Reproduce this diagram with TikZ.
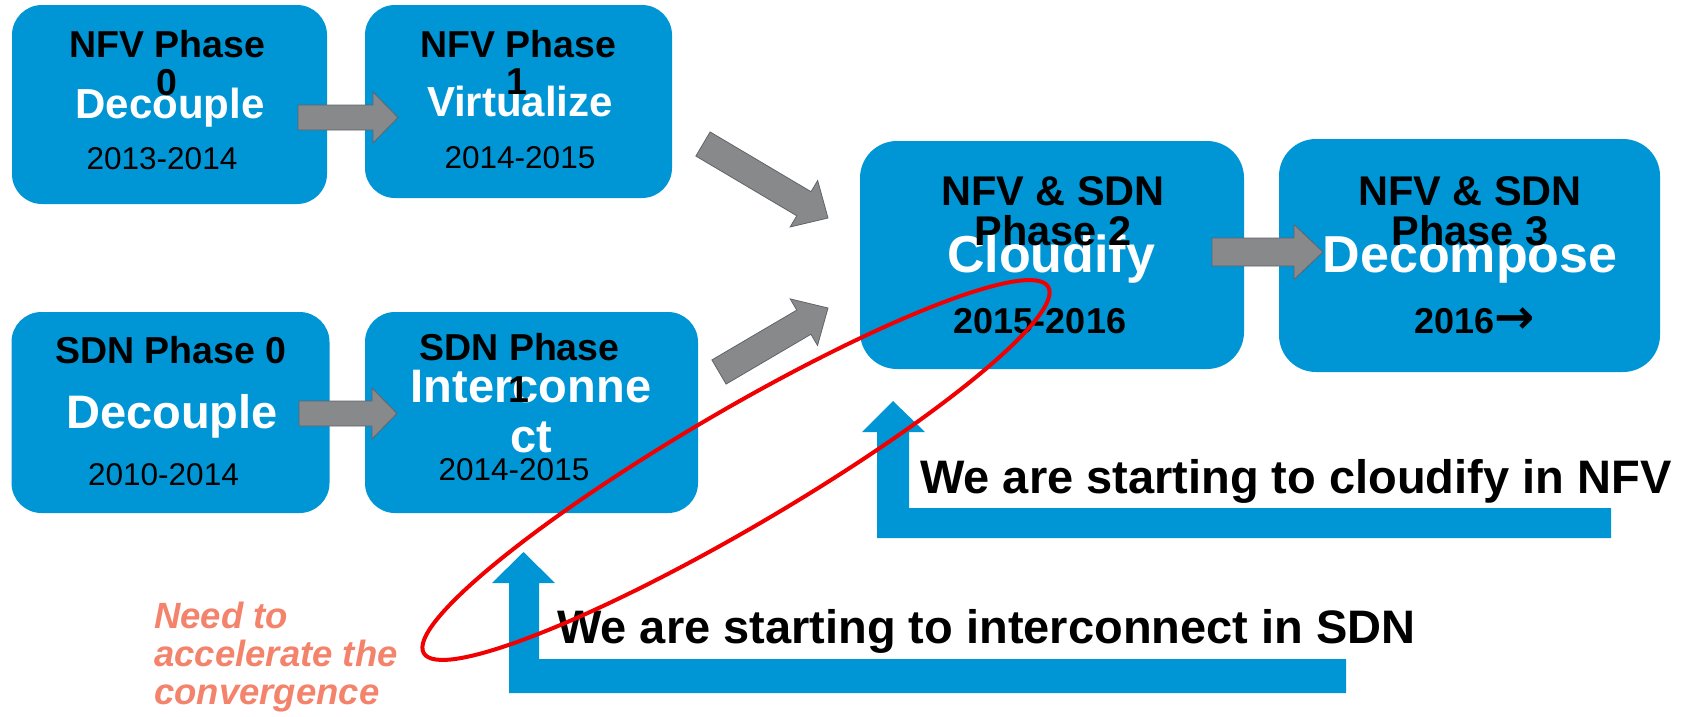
\documentclass[tikz,border=0pt]{standalone}
\usepackage{fontspec}
\setmainfont{Liberation Sans}
\newfontfamily\arrowfont{DejaVu Sans}
\usetikzlibrary{calc}
\definecolor{boxblue}{RGB}{0,150,214}
\definecolor{garrowfill}{RGB}{136,137,139}
\definecolor{garrowline}{RGB}{95,100,108}
\definecolor{salmon}{RGB}{244,131,108}
\definecolor{ellred}{RGB}{240,0,0}
\newcommand\grayblock[5]{%
  \coordinate (#1-c) at ($(#2)!#5!(#1)$);
  \filldraw[fill=garrowfill, draw=garrowline, line width=0.8pt]
    ($(#1)!#3!90:(#2)$) -- ($(#1-c)!#3!-90:(#1)$) -- ($(#1-c)!#4!-90:(#1)$)
    -- (#2) -- ($(#1-c)!#4!90:(#1)$) -- ($(#1-c)!#3!90:(#1)$)
    -- ($(#1)!#3!-90:(#2)$) -- cycle;
}
\begin{document}
\begin{tikzpicture}[x=1pt,y=-1pt,
  phasebox/.style={fill=boxblue, draw=none, rounded corners=30pt, inner sep=0pt},
  bigbox/.style={fill=boxblue, draw=none, rounded corners=37pt, inner sep=0pt},
  ttl/.style={anchor=base, inner sep=0pt, text=black, font=\fontsize{#1}{#1}\selectfont\bfseries},
  bigw/.style={anchor=base, inner sep=0pt, text=white, font=\fontsize{#1}{#1}\selectfont\bfseries},
  date/.style={anchor=base, inner sep=0pt, text=black, font=\fontsize{31.5}{32}\selectfont},
  bdate/.style={anchor=base, inner sep=0pt, text=black, font=\fontsize{36}{36}\selectfont\bfseries},
  msg/.style={anchor=base west, inner sep=0pt, text=black, font=\fontsize{47}{47}\selectfont\bfseries},
  note/.style={anchor=base west, inner sep=0pt, text=salmon, font=\fontsize{36.5}{36.5}\selectfont\bfseries\itshape},
  larrow/.style={fill=boxblue, draw=none}
]
\useasboundingbox (0,0) rectangle (1706,716);
\fill[white] (0,0) rectangle (1706,716);

% boxes
\node[phasebox, minimum width=315pt, minimum height=199pt] (nfv0) at (169.5,104.5) {};
\node[phasebox, minimum width=307pt, minimum height=193pt] (nfv1) at (518.5,101.5) {};
\node[phasebox, minimum width=318pt, minimum height=201pt] (sdn0) at (170.5,412.5) {};
\node[phasebox, minimum width=333pt, minimum height=201pt] (sdn1) at (531.5,412.5) {};
\node[bigbox, minimum width=384pt, minimum height=228pt] (ph2) at (1052,255) {};
\node[bigbox, minimum width=381pt, minimum height=233pt] (ph3) at (1469.5,255.5) {};

% gray block arrows
\coordinate (a1t) at (298,117.5); \coordinate (a1h) at (398,117.5);
\grayblock{a1t}{a1h}{12.5pt}{25.5pt}{25pt}
\coordinate (a2t) at (299,413.5); \coordinate (a2h) at (397,413.5);
\grayblock{a2t}{a2h}{12.5pt}{25.5pt}{25pt}
\coordinate (a3t) at (1212,252); \coordinate (a3h) at (1323,252);
\grayblock{a3t}{a3h}{14pt}{27.5pt}{29pt}
\coordinate (a4t) at (703,144); \coordinate (a4h) at (828,218);
\grayblock{a4t}{a4h}{14pt}{27pt}{28pt}
\coordinate (a5t) at (719,372); \coordinate (a5h) at (828,308);
\grayblock{a5t}{a5h}{14pt}{27pt}{28pt}

% NFV0 texts
\node[bigw=42] (nfv0w) at (170,118) {Decouple};
\node[ttl=37.5] (nfv0a) at (167,57) {NFV Phase};
\node[ttl=37.5] (nfv0b) at (167,95) {0};
\node[date] (nfv0d) at (162,169) {2013-2014};
% NFV1 texts
\node[bigw=42] (nfv1w) at (520,116) {Virtualize};
\node[ttl=37.5] (nfv1a) at (518,57) {NFV Phase};
\node[ttl=37.5] (nfv1b) at (517,94) {1};
\node[date] (nfv1d) at (520,168) {2014-2015};
% SDN0 texts
\node[bigw=47] (sdn0w) at (172,428) {Decouple};
\node[ttl=37.5] (sdn0a) at (171,363) {SDN Phase 0};
\node[date] (sdn0d) at (163.5,485) {2010-2014};
% SDN1 texts
\node[bigw=47] (sdn1w) at (531,402) {Interconne};
\node[bigw=47] (sdn1x) at (531,452) {ct};
\node[ttl=37.5] (sdn1a) at (519.5,360) {SDN Phase};
\node[ttl=37.5] (sdn1b) at (519,402) {1};
\node[date] (sdn1d) at (514,480) {2014-2015};
% Phase 2 texts
\node[bigw=52] (ph2w) at (1051,272) {Cloudify};
\node[ttl=41.5] (ph2a) at (1053,205) {NFV \& SDN};
\node[ttl=41.5] (ph2b) at (1053,245) {Phase 2};
\node[bdate] (ph2d) at (1040,333) {2015-2016};
% Phase 3 texts
\node[bigw=52] (ph3w) at (1470,272) {Decompose};
\node[ttl=41.5] (ph3a) at (1470,205) {NFV \& SDN};
\node[ttl=41.5] (ph3b) at (1470,245) {Phase 3};
\node[bdate] (ph3d) at (1475,333) {2016{\arrowfont\bfseries\fontsize{48}{48}\selectfont →}};

% blue L arrows
\fill[larrow] (893,401) -- (925,432) -- (909,432) -- (909,508) -- (1611,508) -- (1611,538)
  -- (877,538) -- (877,432) -- (862,432) -- cycle;
\fill[larrow] (523.5,552) -- (555,583) -- (539,583) -- (539,659) -- (1346,659) -- (1346,693)
  -- (509,693) -- (509,583) -- (492,583) -- cycle;

\node[msg] (m1) at (920,493) {We are starting to cloudify in NFV};
\node[msg] (m2) at (557,643) {We are starting to interconnect in SDN};

% note
\node[note] (n1) at (154,628) {Need to};
\node[note] (n2) at (154,666) {accelerate the};
\node[note] (n3) at (154,704) {convergence};

% red ellipse
\draw[ellred, line width=4pt, rotate around={30.4:(736,470)}] (736,470) ellipse [x radius=362pt, y radius=58pt];
\end{tikzpicture}
\end{document}
